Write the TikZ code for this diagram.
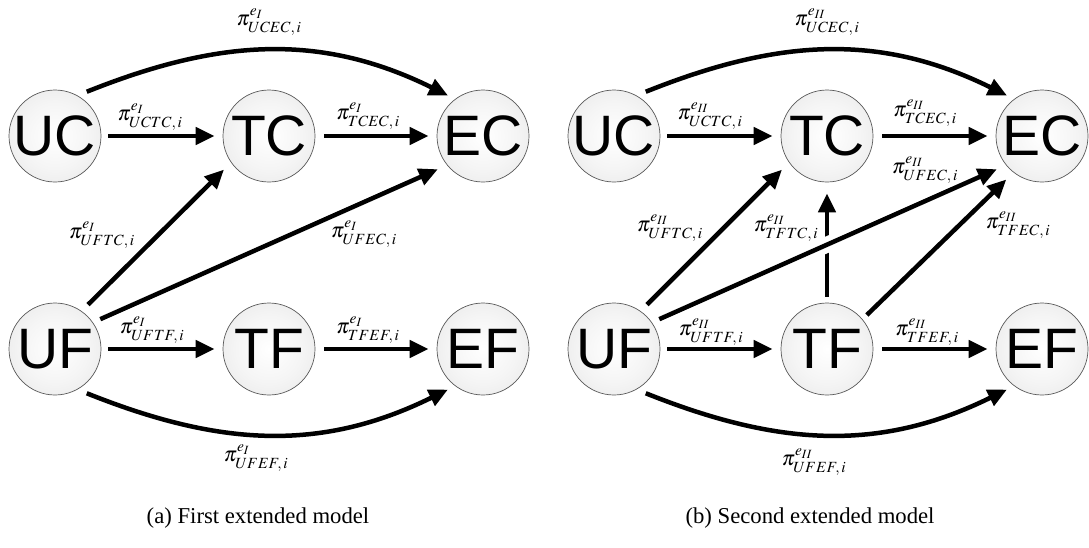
\documentclass[tikz,border=0pt]{standalone}
\usepackage{mathptmx}
\usepackage{fontspec}
\setmainfont{Liberation Serif}
\newfontfamily\ballfont{Liberation Sans}
\usetikzlibrary{arrows.meta}
% soft light-grey sphere fill, brightest in the middle
\pgfdeclareradialshading{orb}{\pgfpoint{0bp}{0bp}}{%
  color(0bp)=(white); color(18bp)=(black!4); color(34bp)=(black!9);
  color(46bp)=(black!14); color(50bp)=(black!16)}
\tikzset{
  ball/.style={circle, minimum size=92pt, inner sep=0pt, draw=black!65, line width=0.7pt,
    shading=orb, font=\ballfont\fontsize{57}{57}\selectfont},
  link/.style={line width=4.5pt, -{Triangle[length=19pt,width=17pt]}},
  halo/.style={white, line width=16pt},
  lab/.style={inner sep=0pt, font=\fontsize{21}{25}\selectfont},
  capt/.style={inner sep=0pt, font=\fontsize{22.7}{27}\selectfont}
}
\begin{document}
\begin{tikzpicture}[x=1pt, y=-1pt]
\useasboundingbox (0,0) rectangle (1089,547);

% ---------- (a) first extended model ----------
\node[ball] (UCa) at (55,136) {UC};
\node[ball] (TCa) at (269,136) {TC};
\node[ball] (ECa) at (483,136) {EC};
\node[ball] (UFa) at (55,349) {UF};
\node[ball] (TFa) at (269,349) {TF};
\node[ball] (EFa) at (483,349) {EF};

\draw[link, shorten <=7pt, shorten >=8pt] (UCa) -- (TCa);
\draw[link, shorten <=9pt, shorten >=8pt] (TCa) -- (ECa);
\draw[link, shorten <=7pt, shorten >=8pt] (UFa) -- (TFa);
\draw[link, shorten <=9pt, shorten >=8pt] (TFa) -- (EFa);
\draw[link, shorten <=9pt, shorten >=10pt] (UFa.55) -- (TCa.215);
\draw[link, shorten <=8pt, shorten >=10pt] (UFa.35) -- (ECa.219);
\draw[link, shorten <=10pt, shorten >=8pt]
  (UCa.61) .. controls +(140,-56) and +(-136,-67) .. (ECa.127);
\draw[link, shorten <=10pt, shorten >=8pt]
  (UFa.-61) .. controls +(140,56) and +(-136,67) .. (EFa.-127);

\node[lab] (lUCECa) at (269,22) {$\pi^{e_I}_{UCEC,\,i}$};
\node[lab] (lUCTCa) at (150,117) {$\pi^{e_I}_{UCTC,\,i}$};
\node[lab] (lTCECa) at (368,116) {$\pi^{e_I}_{TCEC,\,i}$};
\node[lab] (lUFTCa) at (102,235) {$\pi^{e_I}_{UFTC,\,i}$};
\node[lab] (lUFECa) at (364,234) {$\pi^{e_I}_{UFEC,\,i}$};
\node[lab] (lUFTFa) at (152,330) {$\pi^{e_I}_{UFTF,\,i}$};
\node[lab] (lTFEFa) at (368,330) {$\pi^{e_I}_{TFEF,\,i}$};
\node[lab] (lUFEFa) at (256,458) {$\pi^{e_I}_{UFEF,\,i}$};

\node[capt] (capa) at (258,518) {(a) First extended model};

% ---------- (b) second extended model ----------
\node[ball] (UCb) at (614,136) {UC};
\node[ball] (TCb) at (827,136) {TC};
\node[ball] (ECb) at (1042,136) {EC};
\node[ball] (UFb) at (614,349) {UF};
\node[ball] (TFb) at (827,349) {TF};
\node[ball] (EFb) at (1042,349) {EF};

\draw[link, shorten <=6pt, shorten >=11pt] (TFb) -- (TCb);
\draw[halo, shorten <=165pt, shorten >=150pt] (UFb.35) -- (ECb.219);
\draw[link, shorten <=8pt, shorten >=10pt] (UFb.35) -- (ECb.219);
\draw[link, shorten <=7pt, shorten >=8pt] (UCb) -- (TCb);
\draw[link, shorten <=9pt, shorten >=8pt] (TCb) -- (ECb);
\draw[link, shorten <=7pt, shorten >=8pt] (UFb) -- (TFb);
\draw[link, shorten <=9pt, shorten >=8pt] (TFb) -- (EFb);
\draw[link, shorten <=9pt, shorten >=10pt] (UFb.55) -- (TCb.215);
\draw[link, shorten <=6pt, shorten >=10pt] (TFb.40) -- (ECb.232);
\draw[link, shorten <=10pt, shorten >=8pt]
  (UCb.61) .. controls +(140,-56) and +(-136,-67) .. (ECb.127);
\draw[link, shorten <=10pt, shorten >=8pt]
  (UFb.-61) .. controls +(140,56) and +(-136,67) .. (EFb.-127);

\node[lab] (lUCECb) at (827,22) {$\pi^{e_{II}}_{UCEC,\,i}$};
\node[lab] (lUCTCb) at (710,116) {$\pi^{e_{II}}_{UCTC,\,i}$};
\node[lab] (lTCECb) at (925,113) {$\pi^{e_{II}}_{TCEC,\,i}$};
\node[lab] (lUFECb) at (925,170) {$\pi^{e_{II}}_{UFEC,\,i}$};
\node[lab] (lUFTCb) at (670,228) {$\pi^{e_{II}}_{UFTC,\,i}$};
\node[lab] (lTFTCb) at (786,228) {$\pi^{e_{II}}_{TFTC,\,i}$};
\node[lab] (lTFECb) at (1018,225) {$\pi^{e_{II}}_{TFEC,\,i}$};
\node[lab] (lUFTFb) at (711,332) {$\pi^{e_{II}}_{UFTF,\,i}$};
\node[lab] (lTFEFb) at (927,332) {$\pi^{e_{II}}_{TFEF,\,i}$};
\node[lab] (lUFEFb) at (814,462) {$\pi^{e_{II}}_{UFEF,\,i}$};

\node[capt] (capb) at (810,518) {(b) Second extended model};
\end{tikzpicture}
\end{document}
